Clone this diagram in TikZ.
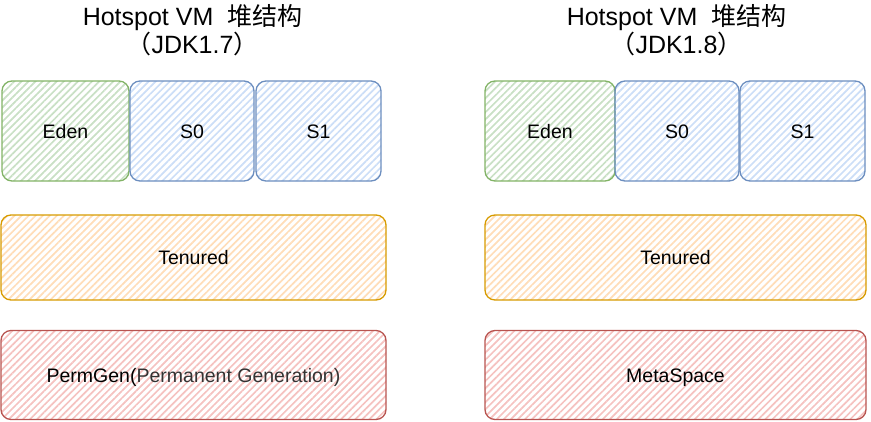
\documentclass[tikz,border=0pt]{standalone}
\usepackage{fontspec}
\setmainfont{Liberation Sans}
\newfontfamily\cjk{Noto Sans CJK SC}
\usepackage{tikz}
\usetikzlibrary{patterns.meta}

\definecolor{edenline}{HTML}{82B366}
\definecolor{edenfill}{HTML}{C9E0C5}
\definecolor{survline}{HTML}{6C8EBF}
\definecolor{survfill}{HTML}{CCDEF7}
\definecolor{oldline}{HTML}{D79B00}
\definecolor{oldfill}{HTML}{FFDDB8}
\definecolor{permline}{HTML}{B85450}
\definecolor{permfill}{HTML}{F5C2C0}
\definecolor{notegray}{HTML}{333333}

\tikzset{
  area/.style 2 args={draw=#1, line width=1.3pt, rounded corners=10pt,
    pattern={Lines[angle=45,distance=5pt,line width=1.7pt]}, pattern color=#2,
    inner sep=0pt, text height=16pt, text depth=2pt,
    font=\fontsize{19.5}{22}\selectfont},
  heading/.style={anchor=base, font=\fontsize{25}{28}\selectfont},
}

\begin{document}
\begin{tikzpicture}[x=1pt,y=-1pt]
			\useasboundingbox (0,0) rectangle (871,421);

			% JDK 1.7
			\node[heading] (titleA) at (192.5,25) {Hotspot VM\ \ {\cjk 堆结构}};
			\node[heading] (subA) at (192.5,53) {{\cjk （}JDK1.7{\cjk ）}};
			\node[area={edenline}{edenfill}, minimum width=127pt, minimum height=100pt] (edenA) at (65.5,131) {Eden};
			\node[area={survline}{survfill}, minimum width=124pt, minimum height=100pt] (szeroA) at (192,131) {S0};
			\node[area={survline}{survfill}, minimum width=125pt, minimum height=100pt] (soneA) at (318.5,131) {S1};
			\node[area={oldline}{oldfill}, minimum width=385pt, minimum height=85pt] (tenuredA) at (193.5,257.5) {Tenured};
			\node[area={permline}{permfill}, minimum width=385pt, minimum height=89pt] (permA) at (193.5,375) {PermGen(\textcolor{notegray}{Permanent Generation)}};

			% JDK 1.8
			\node[heading] (titleB) at (676.5,25) {Hotspot VM\ \ {\cjk 堆结构}};
			\node[heading] (subB) at (676.5,53) {{\cjk （}JDK1.8{\cjk ）}};
			\node[area={edenline}{edenfill}, minimum width=130pt, minimum height=100pt] (edenB) at (550,131) {Eden};
			\node[area={survline}{survfill}, minimum width=124pt, minimum height=100pt] (szeroB) at (677,131) {S0};
			\node[area={survline}{survfill}, minimum width=125pt, minimum height=100pt] (soneB) at (802.5,131) {S1};
			\node[area={oldline}{oldfill}, minimum width=381pt, minimum height=85pt] (tenuredB) at (675.5,257.5) {Tenured};
			\node[area={permline}{permfill}, minimum width=381pt, minimum height=89pt] (metaB) at (675.5,375) {MetaSpace};
		\end{tikzpicture}
\end{document}
